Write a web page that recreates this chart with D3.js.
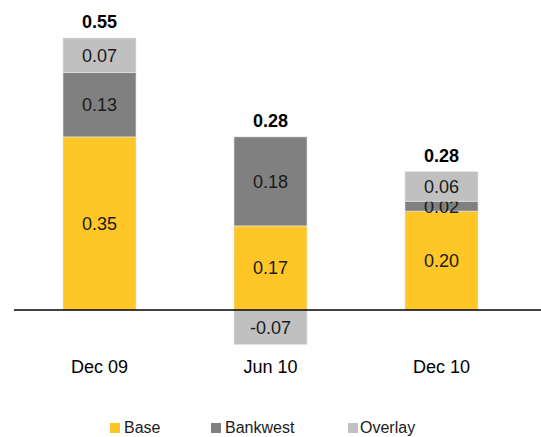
<!DOCTYPE html>
<html>
<head>
<meta charset="utf-8">
<script src="https://cdn.jsdelivr.net/npm/d3@7"></script>
<style>
  body { margin: 0; background: #fff; }
  text { font-family: "Liberation Sans", Arial, sans-serif; }
</style>
</head>
<body>
<script>
(function(){

    const svgWidth = 541,
        svgHeight = 437;

    // chart values
    const periods = ["Dec 09", "Jun 10", "Dec 10"];
    const seriesNames = ["Base", "Bankwest", "Overlay"];
    const baseValues = [0.35, 0.17, 0.20];
    const bankwestValues = [0.13, 0.18, 0.02];
    const overlayValues = [0.07, -0.07, 0.06];
    const totals = [0.55, 0.28, 0.28];

    const colors = {
        Base: "#ffc627",
        Bankwest: "#808080",
        Overlay: "#c0c0c0"
    };

    const rows = periods.map((p, i) => ({
        period: p,
        Base: baseValues[i],
        Bankwest: bankwestValues[i],
        Overlay: overlayValues[i],
        total: totals[i]
    }));

    const fmt = v => v.toFixed(2);

    const svg = d3.select("body")
        .append("svg")
        .attr("width", svgWidth)
        .attr("height", svgHeight);

    const x = d3.scaleBand()
        .domain(periods)
        .range([14, 527])
        .paddingInner(0.573)
        .paddingOuter(0.2865);

    const y = d3.scaleLinear()
        .domain([0, 0.55])
        .range([310, 38]);

    const stacked = d3.stack()
        .keys(seriesNames)
        .offset(d3.stackOffsetDiverging)(rows);

    const layers = svg.append("g")
        .selectAll("g")
        .data(stacked)
        .enter().append("g")
        .attr("fill", d => colors[d.key]);

    layers.selectAll("rect")
        .data(d => d)
        .enter().append("rect")
        .attr("x", d => x(d.data.period))
        .attr("width", x.bandwidth())
        .attr("y", d => y(Math.max(d[0], d[1])))
        .attr("height", d => Math.abs(y(d[0]) - y(d[1])))
        .attr("stroke", "#e6e6e6")
        .attr("stroke-width", 0.6);

    // segment labels
    layers.selectAll("text")
        .data(d => d.map(v => ({ key: d.key, v: v })))
        .enter().append("text")
        .attr("x", d => x(d.v.data.period) + x.bandwidth() / 2)
        .attr("y", d => (y(d.v[0]) + y(d.v[1])) / 2)
        .attr("dy", "0.36em")
        .attr("text-anchor", "middle")
        .attr("font-size", 18)
        .attr("fill", "#1a1a1a")
        .text(d => fmt(d.v.data[d.key]));

    // totals
    svg.append("g")
        .selectAll("text")
        .data(rows)
        .enter().append("text")
        .attr("x", d => x(d.period) + x.bandwidth() / 2)
        .attr("y", d => y(d3.sum(seriesNames, k => Math.max(0, d[k]))) - 10)
        .attr("text-anchor", "middle")
        .attr("font-size", 18)
        .attr("font-weight", "bold")
        .text(d => fmt(d.total));

    // zero line
    svg.append("line")
        .attr("x1", 14)
        .attr("x2", 541)
        .attr("y1", y(0))
        .attr("y2", y(0))
        .attr("stroke", "#000")
        .attr("stroke-width", 1.5);

    // category labels
    const xAxis = d3.axisBottom(x).tickSize(0).tickPadding(0);
    const axisG = svg.append("g")
        .attr("transform", "translate(0,360)")
        .call(xAxis);
    axisG.select(".domain").remove();
    axisG.selectAll("text")
        .attr("font-size", 18)
        .attr("font-family", "Liberation Sans, Arial, sans-serif")
        .attr("fill", "#000");

    // legend
    const legendX = [110, 211, 348];
    const legend = svg.append("g")
        .selectAll("g")
        .data(seriesNames)
        .enter().append("g")
        .attr("transform", (d, i) => `translate(${legendX[i]}, 423)`);

    legend.append("rect")
        .attr("width", 10)
        .attr("height", 10)
        .attr("fill", d => colors[d]);

    legend.append("text")
        .attr("x", d => d === "Overlay" ? 12 : 14)
        .attr("y", 10)
        .attr("font-size", 16)
        .attr("fill", "#1a1a1a")
        .text(d => d);

})();
</script>
</body>
</html>
